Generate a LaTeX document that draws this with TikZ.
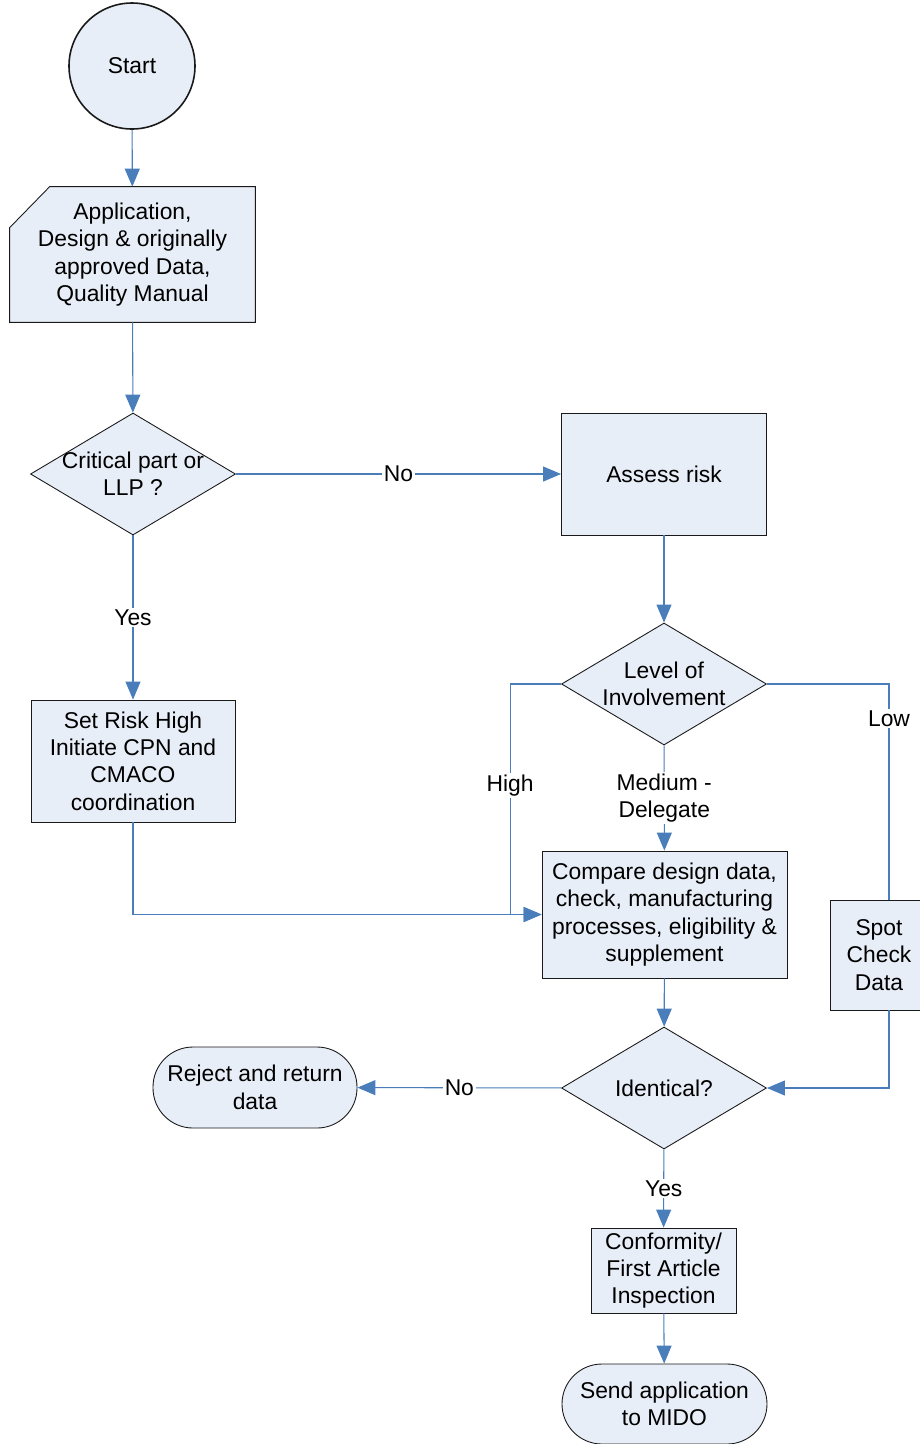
\documentclass[tikz,border=0pt]{standalone}
\usepackage{fontspec}
\setmainfont{Liberation Sans}
\usetikzlibrary{shapes.geometric,arrows.meta,backgrounds}
\definecolor{boxfill}{HTML}{E8EEF7}
\definecolor{linkblue}{HTML}{4A7EBB}

\begin{document}
\begin{tikzpicture}[
  every node/.style={font=\fontsize{13}{15.6}\selectfont, align=center},
  box/.style={draw=black!90, fill=boxfill, line width=0.5pt, inner sep=0pt},
  dia/.style={box, diamond, minimum width=4.1cm, minimum height=2.44cm},
  term/.style={box, rounded corners=0.8cm, minimum width=4.1cm, minimum height=1.62cm},
  link/.style={linkblue, line width=0.6pt, -{Triangle[length=0.36cm,width=0.3cm]}},
  tag/.style={fill=white, text=black, inner sep=1pt}
]
\useasboundingbox (0,0) rectangle (18.4,-28.88);

\node[box, circle, line width=0.9pt, minimum size=2.52cm] (start) at (2.64,-1.32) {Start};
\node[inner sep=0pt, minimum width=4.9cm, minimum height=2.7cm] (app) at (2.65,-5.09)
  {Application,\\Design \& originally\\approved Data,\\Quality Manual};
\begin{scope}[on background layer]
\filldraw[box] (app.north east) -- (app.south east) -- (app.south west)
  -- ([yshift=-0.82cm]app.north west) -- ([xshift=0.8cm]app.north west) -- cycle;
\end{scope}

\node[dia, label={center:Critical part or\\LLP ?}] (crit) at (2.66,-9.48) {};
\node[box, minimum width=4.1cm, minimum height=2.44cm] (assess) at (13.28,-9.48) {Assess risk};
\node[dia, label={center:Level of\\Involvement}] (level) at (13.28,-13.68) {};
\node[box, minimum width=4.08cm, minimum height=2.44cm] (setrisk) at (2.66,-15.22)
  {Set Risk High\\Initiate CPN and\\CMACO\\coordination};
\node[box, minimum width=4.9cm, minimum height=2.54cm] (compare) at (13.29,-18.29)
  {Compare design data,\\check, manufacturing\\processes,  eligibility \&\\supplement};
\node[box, minimum width=1.96cm, minimum height=2.2cm] (spot) at (17.58,-19.1) {Spot\\Check\\Data};
\node[dia, label={center:Identical?}] (ident) at (13.28,-21.76) {};
\node[term, minimum width=4.08cm] (reject) at (5.1,-21.75) {Reject and return\\data};
\node[box, minimum width=2.9cm, minimum height=1.7cm] (conform) at (13.27,-25.41)
  {Conformity/\\First Article\\Inspection};
\node[term, minimum height=1.6cm] (send) at (13.29,-28.08) {Send application\\to MIDO};

\draw[link] (start) -- (app);
\draw[link] (app) -- (crit);
\draw[link] (crit) -- node[tag]{No} (assess);
\draw[link] (crit) -- node[tag]{Yes} (setrisk);
\draw[link] (assess) -- (level);
\draw[link] (level) -- node[tag]{Medium -\\Delegate} (compare);
\draw[link] (level.west) -- ++(-1.02,0) |- node[tag, pos=0.22]{High} (compare.west);
\draw[link] (setrisk) |- (compare.west);
\draw[linkblue, line width=0.6pt] (level.east) -| node[tag, pos=0.58]{Low} ([xshift=0.2cm]spot.north);
\draw[link] ([xshift=0.2cm]spot.south) |- (ident.east);
\draw[link] (compare) -- (ident);
\draw[link] (ident) -- node[tag]{No} (reject);
\draw[link] (ident) -- node[tag]{Yes} (conform);
\draw[link] (conform) -- (send);
\end{tikzpicture}
\end{document}
